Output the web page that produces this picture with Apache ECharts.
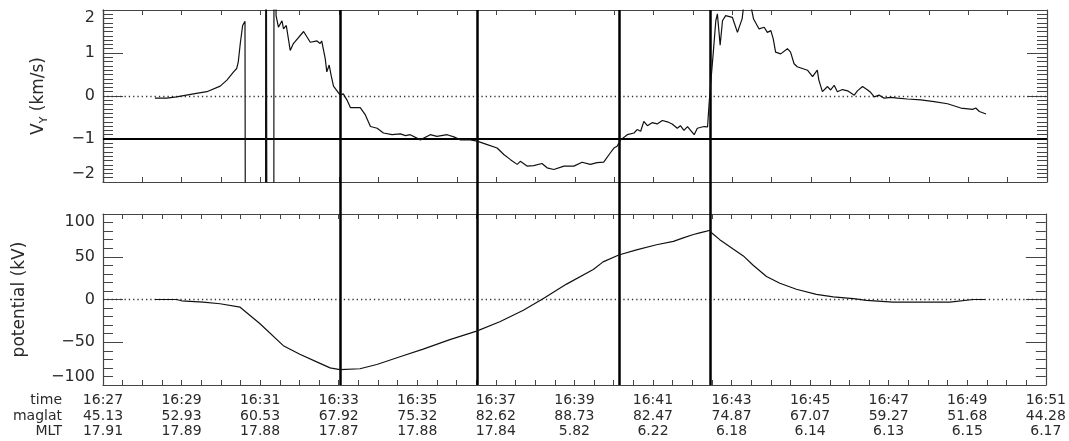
<!DOCTYPE html>
<html>
<head>
<meta charset="utf-8">
<script src="https://cdn.jsdelivr.net/npm/echarts@6/dist/echarts.min.js"></script>
<style>
html,body{margin:0;padding:0;background:#fff;}
#chart{width:1069px;height:441px;}
</style>
</head>
<body>
<div id="chart"></div>
<script>
// minutes after 16:27
const vyTime = [1.32,1.62,1.87,2.30,2.64,2.98,3.15,3.32,3.40,3.44,3.49,3.55,3.61,3.63,4.13,4.14,4.17,4.18,4.34,4.35,4.38,4.40,4.46,4.55,4.59,4.66,4.76,4.84,5.10,5.27,5.44,5.52,5.56,5.65,5.69,5.75,5.80,5.86,5.95,6.03,6.11,6.20,6.29,6.54,6.67,6.80,6.97,7.13,7.35,7.56,7.69,7.81,8.07,8.32,8.49,8.75,8.92,9.09,9.34,9.51,9.77,10.02,10.19,10.36,10.53,10.61,10.78,10.95,11.16,11.29,11.46,11.72,11.97,12.18,12.39,12.56,12.73,12.90,12.99,13.07,13.16,13.33,13.50,13.58,13.67,13.75,13.84,13.96,14.09,14.22,14.35,14.47,14.60,14.68,14.77,14.86,14.94,15.03,15.11,15.28,15.37,15.41,15.45,15.52,15.58,15.62,15.69,15.75,15.83,16.00,16.13,16.25,16.30,16.47,16.54,16.59,16.68,16.81,16.89,16.98,17.04,17.10,17.23,17.40,17.48,17.57,17.65,17.78,17.91,18.04,18.16,18.20,18.29,18.42,18.50,18.59,18.67,18.80,18.93,19.10,19.18,19.31,19.44,19.52,19.61,19.73,19.86,20.03,20.20,20.45,20.79,21.13,21.47,21.81,22.11,22.19,22.28,22.45];
const vyValue = [-0.05,-0.05,-0.02,0.05,0.10,0.23,0.37,0.56,0.64,0.80,1.22,1.64,1.74,-9.99,-9.99,9.99,9.99,-9.99,-9.99,9.99,9.99,1.87,1.60,1.75,1.56,1.64,1.06,1.22,1.50,1.25,1.28,1.22,1.28,0.87,0.56,0.72,0.48,0.23,0.12,0.02,0.05,-0.09,-0.27,-0.27,-0.44,-0.71,-0.75,-0.86,-0.90,-0.88,-0.92,-0.90,-1.02,-0.90,-0.94,-0.90,-0.95,-1.02,-1.02,-1.05,-1.13,-1.21,-1.36,-1.48,-1.59,-1.52,-1.63,-1.62,-1.57,-1.67,-1.71,-1.63,-1.63,-1.54,-1.59,-1.55,-1.54,-1.32,-1.21,-1.17,-1.02,-0.90,-0.86,-0.78,-0.82,-0.59,-0.69,-0.62,-0.65,-0.57,-0.60,-0.65,-0.75,-0.69,-0.80,-0.71,-0.80,-0.90,-0.75,-0.71,-0.72,-0.17,0.29,1.06,1.75,1.91,1.18,1.75,1.87,1.83,1.48,1.80,2.20,2.10,1.79,1.79,1.56,1.60,1.48,1.52,1.33,1.02,0.98,1.10,1.02,0.75,0.68,0.64,0.60,0.45,0.60,0.37,0.10,0.22,0.14,0.25,0.10,0.15,0.12,0.02,0.12,0.22,0.14,0.08,-0.02,0.02,-0.05,-0.03,-0.05,-0.07,-0.09,-0.13,-0.18,-0.28,-0.31,-0.28,-0.36,-0.42];

const potTime = [1.32,1.87,2.00,2.55,2.98,3.49,3.99,4.59,5.01,5.44,5.78,6.03,6.54,6.97,7.56,8.15,8.83,9.51,10.10,10.70,11.20,11.80,12.48,12.73,13.13,13.58,14.09,14.52,14.77,15.03,15.19,15.37,15.45,15.49,15.70,16.04,16.30,16.55,16.89,17.23,17.65,18.16,18.59,19.10,19.44,20.11,21.56,22.15,22.45];
const potValue = [0,0,-1.5,-3,-5,-9,-28,-54,-64,-73,-80,-82,-81,-76,-67,-58,-47,-37,-26,-12.5,1,18,35,44,52,58,64,68,72,76,78,80,81,78,70,59,51,40,27,19,12,6,3,1,-1,-3,-3,0,0];

const vlineTimes = [6.03, 9.52, 13.13, 15.45];

const tickTimes = ['16:27','16:29','16:31','16:33','16:35','16:37','16:39','16:41','16:43','16:45','16:47','16:49','16:51'];
const tickMaglat = ['45.13','52.93','60.53','67.92','75.32','82.62','88.73','82.47','74.87','67.07','59.27','51.68','44.28'];
const tickMLT = ['17.91','17.89','17.88','17.87','17.88','17.84','5.82','6.22','6.18','6.14','6.13','6.15','6.17'];
const rowTitles = ['time','maglat','MLT'];

const FONT = 'DejaVu Sans';
const AX = '#444';
const TXT = '#2a2a2a';
const GRID_L = 103, GRID_R = 22, W = 1069;

const zip = (a,b) => a.map((x,i)=>[x,b[i]]);
const minusFmt = v => (v < 0 ? '\u2212' : '') + Math.abs(v);

function xAxisCfg(grid, pos, minorSplit, labels) {
  return {
    type:'value', gridIndex:grid, position:pos, min:0, max:24, interval:2,
    axisLine:{show:true, onZero:false, lineStyle:{color:AX, width:1.2}},
    axisTick:{show:true, inside:true, length:5, lineStyle:{color:AX}},
    minorTick:{show:true, splitNumber:minorSplit, length:5, lineStyle:{color:AX}},
    splitLine:{show:false}, minorSplitLine:{show:false},
    axisLabel: labels ? {
      show:true, margin:8, fontFamily:FONT, fontSize:14, lineHeight:15.5, color:TXT,
      showMinLabel:true, showMaxLabel:true,
      formatter: v => { const i = Math.round(v/2); return tickTimes[i] + '\n' + tickMaglat[i] + '\n' + tickMLT[i]; }
    } : {show:false}
  };
}
function yAxisCfg(grid, pos, min, max, interval, minorSplit, labels, ticks, sign) {
  return {
    type:'value', gridIndex:grid, position:pos, min:min, max:max, interval:interval,
    axisLine:{show:true, onZero:false, lineStyle:{color:AX, width:1.2}},
    axisTick:{show:ticks, inside:false, length:20*sign, lineStyle:{color:AX}},
    minorTick:{show:ticks, splitNumber:minorSplit, length:10*sign, lineStyle:{color:AX}},
    splitLine:{show:false}, minorSplitLine:{show:false},
    axisLabel: labels ? {
      show:true, margin:8, fontFamily:FONT, fontSize:16, color:TXT,
      formatter: minusFmt, showMinLabel:true, showMaxLabel:true,
      verticalAlignMinLabel:'bottom', verticalAlignMaxLabel:'top'
    } : {show:false}
  };
}

const y0 = yAxisCfg(0,'left',-2,2,1,10,true,false,-1);      // labels of top panel
const y1 = yAxisCfg(0,'right',-2,2,1,10,false,true,-1);     // right ticks of top panel
const y2 = yAxisCfg(1,'left',-100,100,50,5,true,true,-1);
y2.name = 'potential (kV)'; y2.nameLocation='middle'; y2.nameGap=75; y2.nameRotate=90;
y2.nameTextStyle = {fontFamily:FONT, fontSize:17, color:TXT};
const y3 = yAxisCfg(1,'right',-100,100,50,5,false,true,-1);
// left ticks of the top panel: a right-side axis shifted onto the left edge, ticks pointing outward (= into the plot)
const y5 = yAxisCfg(0,'right',-2,2,1,10,false,true,1);
y5.offset = -(W - GRID_L - GRID_R);

const chart = echarts.init(document.getElementById('chart'), null, {renderer:'canvas'});
const dotted = {color:'#333', width:1.3, type:[1.3,3]};

chart.setOption({
  animation:false,
  backgroundColor:'#fff',
  grid:[
    {left:GRID_L, right:GRID_R, top:10, height:172},
    {left:GRID_L, right:GRID_R, top:214, height:171},
    {left:GRID_L, right:GRID_R, top:10, height:375}
  ],
  xAxis:[
    xAxisCfg(0,'bottom',2,false),
    xAxisCfg(0,'top',2,false),
    xAxisCfg(1,'bottom',4,true),
    xAxisCfg(1,'top',4,false),
    {type:'value', gridIndex:2, min:0, max:24, show:false}
  ],
  yAxis:[ y0, y1, y2, y3, {type:'value', gridIndex:2, min:0, max:1, show:false}, y5 ],
  graphic:[
    {
      type:'text', x:62, y:393, silent:true,
      style:{text: rowTitles.join('\n'), font:'14px "' + FONT + '"', fill:TXT, textAlign:'right', align:'right', lineHeight:15.5}
    },
    {
      type:'text', x:37, y:96, rotation:Math.PI/2, silent:true,
      style:{
        text:'{a|V}{b|Y}{a| (km/s)}', align:'center', verticalAlign:'middle', fill:TXT,
        rich:{
          a:{fontFamily:FONT, fontSize:17, fill:TXT, lineHeight:20, verticalAlign:'bottom'},
          b:{fontFamily:FONT, fontSize:11, fill:TXT, lineHeight:20, verticalAlign:'bottom', padding:[0,0,-3,0]}
        }
      }
    }
  ],
  series:[
    {
      type:'line', xAxisIndex:0, yAxisIndex:0, data: zip(vyTime, vyValue),
      showSymbol:false, symbol:'none', clip:true, z:5,
      lineStyle:{color:'#111', width:1.2},
      markLine:{silent:true, symbol:['none','none'], label:{show:false}, animation:false,
        data:[
          {yAxis:0, lineStyle:dotted},
          {yAxis:-1, lineStyle:{color:'#000', width:2.2, type:'solid'}}
        ]}
    },
    {
      type:'line', xAxisIndex:2, yAxisIndex:2, data: zip(potTime, potValue),
      showSymbol:false, symbol:'none', clip:true, z:5,
      lineStyle:{color:'#111', width:1.2},
      markLine:{silent:true, symbol:['none','none'], label:{show:false}, animation:false,
        data:[ {yAxis:0, lineStyle:dotted} ]}
    },
    {
      type:'line', xAxisIndex:4, yAxisIndex:4, data:[[0,0]],
      showSymbol:false, symbol:'none', lineStyle:{opacity:0}, z:6,
      markLine:{silent:true, symbol:['none','none'], label:{show:false}, animation:false,
        lineStyle:{color:'#000', width:2.5, type:'solid'},
        data: vlineTimes.map(t => ({xAxis:t}))}
    }
  ]
});
</script>
</body>
</html>
